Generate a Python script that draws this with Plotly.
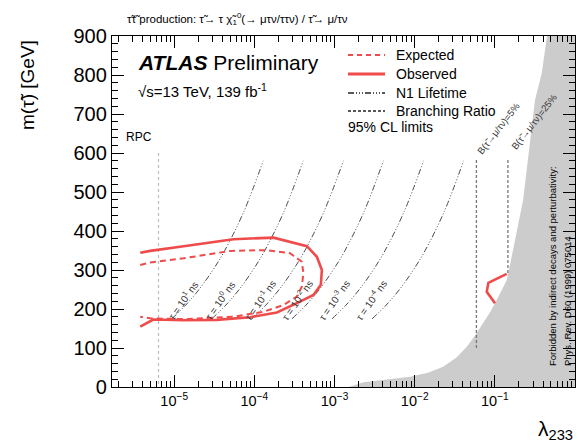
import plotly.graph_objects as go
import numpy as np

# ---------------- data ----------------
obs_lambda = [3.77e-6, 5.02e-6, 1.31e-5, 5.48e-5, 1.73e-4, 4.52e-4, 6.02e-4, 6.95e-4, 6.75e-4,
              5.46e-4, 3.39e-4, 1.91e-4, 8.87e-5, 3.40e-5, 1.31e-5, 5.47e-6, 3.77e-6]
obs_mass = [344, 349, 361, 379, 383, 361, 334, 300, 262, 236, 215, 191, 179, 172, 171, 173, 155]

obs2_lambda = [0.1406, 0.0830, 0.0793, 0.1005]
obs2_mass = [290, 267, 244, 215]

exp_lambda = [3.77e-6, 5.02e-6, 1.31e-5, 4.99e-5, 1.43e-4, 2.79e-4, 3.91e-4, 4.09e-4, 3.91e-4,
              3.39e-4, 2.31e-4, 1.30e-4, 5.48e-5, 1.31e-5, 5.02e-6, 3.77e-6]
exp_mass = [313, 319, 330, 349, 351, 343, 321, 292, 257, 232, 210, 193, 180, 174, 176, 180]

life_mass = [175, 210, 250, 300, 350, 450, 580]
life_lines = {
    "10<sup>1</sup>":  [9.33e-6, 1.39e-5, 2.04e-5, 3.04e-5, 4.27e-5, 7.40e-5, 1.29e-4],
    "10<sup>0</sup>":  [2.95e-5, 4.41e-5, 6.46e-5, 9.62e-5, 1.35e-4, 2.34e-4, 4.07e-4],
    "10<sup>-1</sup>": [9.33e-5, 1.39e-4, 2.04e-4, 3.04e-4, 4.27e-4, 7.40e-4, 1.29e-3],
    "10<sup>-2</sup>": [2.95e-4, 4.41e-4, 6.46e-4, 9.62e-4, 1.35e-3, 2.34e-3, 4.07e-3],
    "10<sup>-3</sup>": [9.33e-4, 1.39e-3, 2.04e-3, 3.04e-3, 4.27e-3, 7.40e-3, 1.29e-2],
    "10<sup>-4</sup>": [2.95e-3, 4.41e-3, 6.46e-3, 9.62e-3, 1.35e-2, 2.34e-2, 4.07e-2],
}

br5_lambda = [0.0589, 0.0589]
br5_mass = [582, 100]
br25_lambda = [0.1455, 0.1455]
br25_mass = [582, 290]

rpc_lambda = [6.37e-6, 6.37e-6]
rpc_mass = [600, 0]

forb_lambda = [1.5e-3, 2.3e-3, 4.5e-3, 8.77e-3, 1.5e-2, 2.26e-2, 3.3e-2, 4.47e-2, 5.7e-2, 7.13e-2,
               0.088, 0.1057, 0.1406, 0.1687, 0.2249, 0.317, 0.385, 0.448, 1.0, 1.0]
forb_mass = [0, 12, 19, 26, 37, 52, 75, 103, 133, 164,
             193, 223, 274, 351, 479, 736, 805, 900, 900, 0]

x_tickvals = [1e-5, 1e-4, 1e-3, 1e-2, 1e-1, 1]
x_ticktext = ["10<sup>\u22125</sup>", "10<sup>\u22124</sup>", "10<sup>\u22123</sup>",
              "10<sup>\u22122</sup>", "10<sup>\u22121</sup>", "1"]

# ---------------- style ----------------
FONT = "Liberation Sans, Arial, Helvetica, sans-serif"
RED = "#ef4b4b"
W, H = 579, 443
L, R, T, B = 112, 575, 36, 387


def px_x(px):
    return (px - L) / (R - L)


def px_y(py):
    return (B - py) / (B - T)


LIFE_DASH = "6px,2px,1px,2px,1px,2px,1px,2px"
BR_DASH = "3px,2px"

fig = go.Figure()

fig.add_trace(go.Scatter(x=forb_lambda, y=forb_mass, mode="lines", fill="toself",
                         fillcolor="#cccccc", line=dict(width=0, color="#cccccc"),
                         hoverinfo="skip", showlegend=False))

for name, lam in life_lines.items():
    fig.add_trace(go.Scatter(x=lam, y=life_mass, mode="lines", line_shape="spline",
                             line=dict(color="#4a4a4a", width=1, dash=LIFE_DASH),
                             showlegend=False))

fig.add_trace(go.Scatter(x=rpc_lambda, y=rpc_mass, mode="lines",
                         line=dict(color="#bbbbbb", width=1.2, dash="3px,3px"), showlegend=False))
fig.add_trace(go.Scatter(x=br5_lambda, y=br5_mass, mode="lines",
                         line=dict(color="#777777", width=1.3, dash=BR_DASH), showlegend=False))
fig.add_trace(go.Scatter(x=br25_lambda, y=br25_mass, mode="lines",
                         line=dict(color="#777777", width=1.3, dash=BR_DASH), showlegend=False))

fig.add_trace(go.Scatter(x=exp_lambda, y=exp_mass, mode="lines",
                         line=dict(color=RED, width=2, dash="6px,4px"), showlegend=False))
fig.add_trace(go.Scatter(x=obs_lambda, y=obs_mass, mode="lines",
                         line=dict(color=RED, width=2.6), showlegend=False))
fig.add_trace(go.Scatter(x=obs2_lambda, y=obs2_mass, mode="lines",
                         line=dict(color=RED, width=2.6), showlegend=False))

minor_x = [k * 10.0 ** n for n in range(-6, 0) for k in range(2, 10)]

fig.update_layout(
    width=W, height=H,
    margin=dict(l=L, r=W - R, t=T, b=H - B, pad=0),
    paper_bgcolor="white", plot_bgcolor="white",
    font=dict(family=FONT, color="black"),
    showlegend=False,
    xaxis=dict(type="log", range=[np.log10(1.675e-6), 0], showgrid=False, zeroline=False,
               showline=True, linecolor="black", linewidth=1.4, mirror="ticks",
               ticks="inside", ticklen=12, tickwidth=1.2, tickcolor="black",
               tickvals=x_tickvals, ticktext=x_ticktext,
               tickfont=dict(size=14.5, family=FONT),
               minor=dict(tickvals=minor_x, ticks="inside", ticklen=6, tickwidth=1, tickcolor="black")),
    yaxis=dict(range=[0, 900], showgrid=False, zeroline=False,
               showline=True, linecolor="black", linewidth=1.4, mirror="ticks",
               ticks="inside", ticklen=12, tickwidth=1.2, tickcolor="black",
               tick0=0, dtick=100, tickfont=dict(size=20, family=FONT),
               minor=dict(dtick=20, ticks="inside", ticklen=6, tickwidth=1, tickcolor="black")),
)

ann = []
# title
ann.append(dict(x=px_x(125), y=px_y(19), xref="paper", yref="paper", xanchor="left", yanchor="middle",
                text="\u03c4\u0303\u03c4\u0303 production: \u03c4\u0303\u2192 \u03c4 \u03c7\u0303<sub>1</sub><sup>0</sup>(\u2192 \u03bc\u03c4\u03bd/\u03c4\u03c4\u03bd) / \u03c4\u0303\u2192 \u03bc/\u03c4\u03bd",
                showarrow=False, font=dict(size=11.5, family=FONT)))
# ATLAS
ann.append(dict(x=px_x(136), y=px_y(62), xref="paper", yref="paper", xanchor="left", yanchor="middle",
                text="<b><i>ATLAS</i></b> Preliminary", showarrow=False, font=dict(size=21, family=FONT)))
ann.append(dict(x=px_x(136), y=px_y(90), xref="paper", yref="paper", xanchor="left", yanchor="middle",
                text="\u221as=13 TeV, 139 fb<sup>-1</sup>", showarrow=False, font=dict(size=15, family=FONT)))
# axis titles
ann.append(dict(x=px_x(27), y=px_y(85), xref="paper", yref="paper", xanchor="center", yanchor="middle",
                text="m(\u03c4\u0303) [GeV]", textangle=-90, showarrow=False, font=dict(size=19, family=FONT)))
ann.append(dict(x=1.0, y=px_y(430), xref="paper", yref="paper", xanchor="right", yanchor="middle",
                text="\u03bb<sub>233</sub>", showarrow=False, font=dict(size=21, family=FONT)))
# RPC
ann.append(dict(x=px_x(124), y=px_y(137), xref="paper", yref="paper", xanchor="left", yanchor="middle",
                text="RPC", showarrow=False, font=dict(size=12, family=FONT)))
# lifetime labels
life_label_px = [183, 220, 260, 297, 334, 371]
for (name, _), lx in zip(life_lines.items(), life_label_px):
    ann.append(dict(x=px_x(lx), y=px_y(300), xref="paper", yref="paper", xanchor="center", yanchor="middle",
                    text="\u03c4 = " + name + " ns", textangle=-55, showarrow=False,
                    font=dict(size=10, family=FONT, color="#333333")))
# BR labels
ann.append(dict(x=px_x(498), y=px_y(128), xref="paper", yref="paper", xanchor="center", yanchor="middle",
                text="B(\u03c4\u0303\u2192\u03bc/\u03c4\u03bd)=5%", textangle=-52, showarrow=False,
                font=dict(size=9.5, family=FONT, color="#333333")))
ann.append(dict(x=px_x(534), y=px_y(121), xref="paper", yref="paper", xanchor="center", yanchor="middle",
                text="B(\u03c4\u0303\u2192\u03bc/\u03c4\u03bd)=25%", textangle=-52, showarrow=False,
                font=dict(size=9.5, family=FONT, color="#333333")))
# forbidden text
ann.append(dict(x=px_x(552), y=px_y(368), xref="paper", yref="paper", xanchor="center", yanchor="bottom",
                text="Forbidden by indirect decays and perturbativity:", textangle=-90, showarrow=False,
                font=dict(size=9.5, family=FONT)))
ann.append(dict(x=px_x(567), y=px_y(368), xref="paper", yref="paper", xanchor="center", yanchor="bottom",
                text="Phys. Rev. D60 (1999) 075014", textangle=-90, showarrow=False,
                font=dict(size=9.5, family=FONT)))

# legend
leg_items = [("Expected", dict(color=RED, width=2, dash="5px,4px"), 55),
             ("Observed", dict(color=RED, width=2.8), 74),
             ("N1 Lifetime", dict(color="#222222", width=1.3, dash=LIFE_DASH), 93),
             ("Branching Ratio", dict(color="#222222", width=1.3, dash=BR_DASH), 111)]
shapes = []
for label, ln, yy in leg_items:
    shapes.append(dict(type="line", xref="paper", yref="paper", x0=px_x(348), x1=px_x(385),
                       y0=px_y(yy), y1=px_y(yy), line=ln))
    ann.append(dict(x=px_x(394), y=px_y(yy), xref="paper", yref="paper", xanchor="left", yanchor="middle",
                    text=label, showarrow=False, font=dict(size=14, family=FONT)))
ann.append(dict(x=px_x(346), y=px_y(127), xref="paper", yref="paper", xanchor="left", yanchor="middle",
                text="95% CL limits", showarrow=False, font=dict(size=14, family=FONT)))

fig.update_layout(annotations=ann, shapes=shapes)
fig.write_html("out.html", config={"displayModeBar": False},
               post_script="document.body.style.margin='0';document.body.style.padding='0';"
                           "document.documentElement.style.overflow='hidden';")
